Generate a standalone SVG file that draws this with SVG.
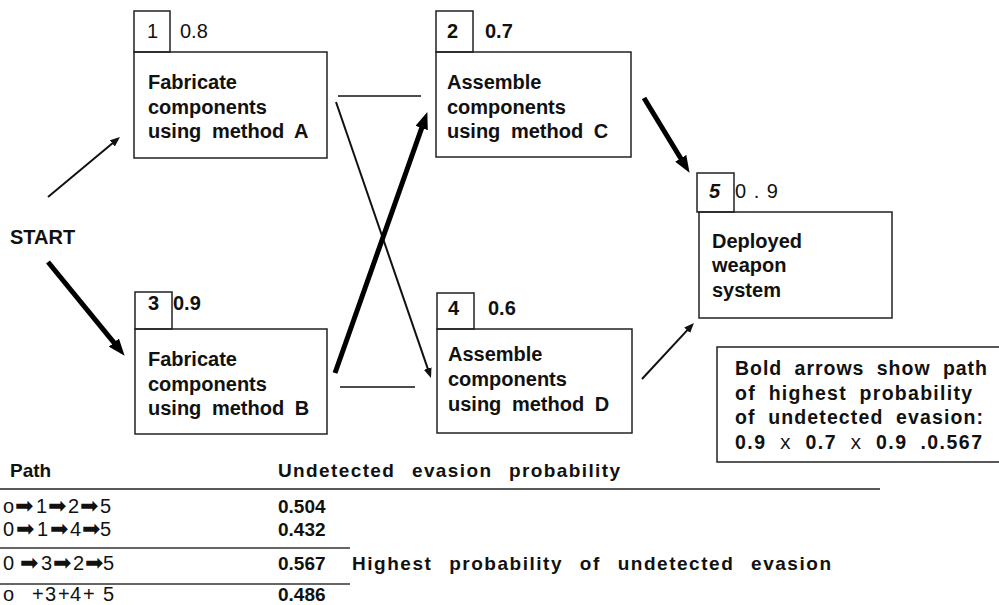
<svg xmlns="http://www.w3.org/2000/svg" width="999" height="605" viewBox="0 0 999 605">
<style>
.box{fill:none;stroke:#222;stroke-width:1.5}
.t{font-family:"Liberation Sans",Arial,sans-serif;font-weight:bold;font-size:20px;fill:#111;word-spacing:5px}
.num{font-family:"Liberation Sans",Arial,sans-serif;font-weight:bold;font-size:20px;fill:#111}
.reg{font-weight:normal}
.lg{font-family:"Liberation Sans",Arial,sans-serif;font-weight:bold;font-size:19.5px;fill:#111;word-spacing:6px}
.tb{font-family:"Liberation Sans",Arial,sans-serif;font-weight:bold;font-size:19px;fill:#111}
.ws{word-spacing:10px}
.pr{font-family:"Liberation Sans",Arial,sans-serif;font-size:20px;fill:#111}
.ar{font-family:"DejaVu Sans",sans-serif;font-size:22px}
.mono{font-family:"Liberation Mono","Courier New",monospace;font-weight:normal}
.thin{stroke:#111;stroke-width:2;fill:none}
.bold{stroke:#000;stroke-width:5;fill:none}
.plain{stroke:#111;stroke-width:1.5;fill:none}
.rule{stroke:#222;stroke-width:1.5}
.rule2{stroke:#666;stroke-width:2}
</style>
<defs>
<marker id="hb" markerUnits="userSpaceOnUse" markerWidth="17" markerHeight="13" refX="4" refY="6.5" orient="auto"><path d="M0,0 L17,6.5 L0,13 Z" fill="#000"/></marker>
<marker id="ht" markerUnits="userSpaceOnUse" markerWidth="10" markerHeight="8" refX="3" refY="4" orient="auto"><path d="M0,0 L10,4 L0,8 Z" fill="#111"/></marker>
</defs>
<rect width="999" height="605" fill="#fff"/>

<g id="start"><text class="t" x="10" y="244" font-size="22">START</text></g>

<g id="node-1">
<rect class="box" x="134" y="11" width="36" height="41"/>
<rect class="box" x="134" y="52" width="193" height="106"/>
<text class="num reg" x="147" y="38" font-size="21">1</text>
<text class="num reg" x="180" y="38" font-size="21">0.8</text>
<text class="t" x="148" y="89">Fabricate</text>
<text class="t" x="148" y="114">components</text>
<text class="t" x="148" y="138" word-spacing="7">using method A</text>
</g>

<g id="node-2">
<rect class="box" x="436" y="11" width="37" height="41"/>
<rect class="box" x="436" y="52" width="195" height="105"/>
<text class="num" x="447" y="38">2</text>
<text class="num" x="485" y="38">0.7</text>
<text class="t" x="447" y="89">Assemble</text>
<text class="t" x="447" y="114">components</text>
<text class="t" x="447" y="138" word-spacing="7">using method C</text>
</g>

<g id="node-3">
<rect class="box" x="135" y="292" width="37" height="37"/>
<rect class="box" x="135" y="329" width="192" height="105"/>
<text class="num" x="148" y="310">3</text>
<text class="num" x="173" y="310">0.9</text>
<text class="t" x="148" y="366">Fabricate</text>
<text class="t" x="148" y="391">components</text>
<text class="t" x="148" y="415" word-spacing="7">using method B</text>
</g>

<g id="node-4">
<rect class="box" x="437" y="293" width="37" height="36"/>
<rect class="box" x="437" y="329" width="195" height="104"/>
<text class="num" x="448" y="315">4</text>
<text class="num" x="488" y="315">0.6</text>
<text class="t" x="448" y="361">Assemble</text>
<text class="t" x="448" y="386">components</text>
<text class="t" x="448" y="411" word-spacing="7">using method D</text>
</g>

<g id="node-5">
<rect class="box" x="697" y="173" width="37" height="39"/>
<rect class="box" x="699" y="212" width="193" height="106"/>
<text class="num" x="709" y="198" font-style="italic">5</text>
<text class="num reg" x="735" y="198" letter-spacing="1">0 . 9</text>
<text class="t" x="712" y="248">Deployed</text>
<text class="t" x="712" y="272">weapon</text>
<text class="t" x="712" y="297">system</text>
</g>

<g id="connectors">
<line class="thin" x1="48" y1="197" x2="114.6" y2="141.5" marker-end="url(#ht)"/>
<line class="bold" x1="48" y1="262" x2="116.4" y2="345.7" marker-end="url(#hb)"/>
<line class="plain" x1="338" y1="96" x2="421" y2="96"/>
<line class="plain" x1="340" y1="387" x2="415" y2="387"/>
<line class="thin" x1="336" y1="102" x2="428.7" y2="371.4" stroke-width="1.8" marker-end="url(#ht)"/>
<line class="bold" x1="335" y1="373" x2="423" y2="124.3" stroke-width="5.5" marker-end="url(#hb)"/>
<line class="bold" x1="644" y1="98" x2="682.8" y2="161.7" stroke-width="4.5" marker-end="url(#hb)"/>
<line class="thin" x1="642" y1="379" x2="689.2" y2="328.1" marker-end="url(#ht)"/>
</g>

<g id="legend">
<rect class="box" x="717" y="347" width="300" height="115"/>
<text class="lg" x="735" y="375" textLength="252" lengthAdjust="spacing">Bold arrows show path</text>
<text class="lg" x="735" y="400" textLength="237" lengthAdjust="spacing">of highest probability</text>
<text class="lg" x="735" y="424" textLength="248" lengthAdjust="spacing">of undetected evasion:</text>
<text class="lg" x="735" y="449" textLength="247" lengthAdjust="spacing">0.9 <tspan class="mono">x</tspan> 0.7 <tspan class="mono">x</tspan> 0.9 .0.567</text>
</g>

<g id="table">
<text class="tb" x="10" y="477">Path</text>
<text class="tb ws" x="278" y="477" textLength="342" lengthAdjust="spacing">Undetected evasion probability</text>
<line class="rule" x1="0" y1="489" x2="880" y2="489"/>
<text class="pr" y="513"><tspan x="3">o</tspan><tspan class="ar" x="15">➡</tspan><tspan x="36">1</tspan><tspan class="ar" x="48">➡</tspan><tspan x="68">2</tspan><tspan class="ar" x="80">➡</tspan><tspan x="100">5</tspan></text>
<text class="tb" x="278" y="513">0.504</text>
<text class="pr" y="536"><tspan x="3">0</tspan><tspan class="ar" x="16">➡</tspan><tspan x="37">1</tspan><tspan class="ar" x="50">➡</tspan><tspan x="70">4</tspan><tspan class="ar" x="82">➡</tspan><tspan x="100">5</tspan></text>
<text class="tb" x="278" y="536">0.432</text>
<line class="rule2" x1="0" y1="548" x2="350" y2="548"/>
<text class="pr" y="570"><tspan x="3">0</tspan><tspan class="ar" x="20">➡</tspan><tspan x="41">3</tspan><tspan class="ar" x="53">➡</tspan><tspan x="73">2</tspan><tspan class="ar" x="85">➡</tspan><tspan x="103">5</tspan></text>
<text class="tb" x="278" y="570">0.567</text>
<text class="tb ws" x="352" y="570" textLength="479" lengthAdjust="spacing">Highest probability of undetected evasion</text>
<line class="rule2" x1="0" y1="584" x2="350" y2="584"/>
<text class="pr" y="601"><tspan x="3">o</tspan><tspan x="32">+</tspan><tspan x="45">3</tspan><tspan x="58">+</tspan><tspan x="70">4</tspan><tspan x="83">+</tspan><tspan x="103">5</tspan></text>
<text class="tb" x="278" y="601">0.486</text>
</g>
</svg>
